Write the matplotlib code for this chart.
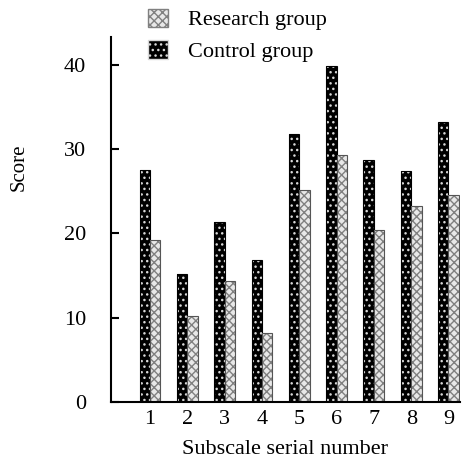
import numpy as np
import matplotlib
matplotlib.use("Agg")
import matplotlib.pyplot as plt
from matplotlib.patches import Patch

plt.rcParams['font.family'] = ['Liberation Serif', 'DejaVu Serif']
plt.rcParams['hatch.linewidth'] = 1.0

subscales = [1, 2, 3, 4, 5, 6, 7, 8, 9]
control = [27.5, 15.2, 21.3, 16.8, 31.8, 39.8, 28.7, 27.4, 33.2]
research = [19.2, 10.2, 14.3, 8.2, 25.1, 29.3, 20.4, 23.2, 24.5]

fig = plt.figure(figsize=(4.62, 4.61), dpi=100)
ax = fig.add_axes([0.240, 0.128, 0.755, 0.792])

x = np.array(subscales)
w = 0.28

# control: black with small white dots
ax.bar(x - w / 2, control, w, color='black', edgecolor='#d8d8d8', hatch='...', linewidth=0)
ax.bar(x - w / 2, control, w, fill=False, edgecolor='black', linewidth=0.8)
# research: light gray cross hatch
ax.bar(x + w / 2, research, w, color='#e8e8e8', edgecolor='#808080', hatch='xxxx', linewidth=0)
ax.bar(x + w / 2, research, w, fill=False, edgecolor='#555555', linewidth=0.8)

ax.set_xlim(-0.05, 9.3)
ax.set_ylim(0, 43.3)
ax.set_yticks([0, 10, 20, 30, 40])
ax.set_xticks(subscales)
ax.tick_params(axis='y', direction='in', length=6, width=1.5, labelsize=16, pad=18)
ax.tick_params(axis='x', length=0, labelsize=16, pad=6)
for s in ['top', 'right']:
    ax.spines[s].set_visible(False)
for s in ['left', 'bottom']:
    ax.spines[s].set_linewidth(1.5)

ax.set_xlabel('Subscale serial number', fontsize=16, labelpad=8)
ax.set_ylabel('Score', fontsize=15)
ax.yaxis.set_label_coords(-0.235, 0.644)

handles = [Patch(facecolor='#e8e8e8', edgecolor='#808080', hatch='xxxx', label='Research group'),
           Patch(facecolor='black', edgecolor='#d8d8d8', hatch='...', label='Control group')]
fig.legend(handles=handles, loc='upper left', bbox_to_anchor=(0.31, 0.991), frameon=False,
           fontsize=16, handlelength=0.9, handleheight=0.9, handletextpad=0.9,
           labelspacing=0.45, borderpad=0.2, borderaxespad=0)

fig.savefig('out.png', dpi=100)
